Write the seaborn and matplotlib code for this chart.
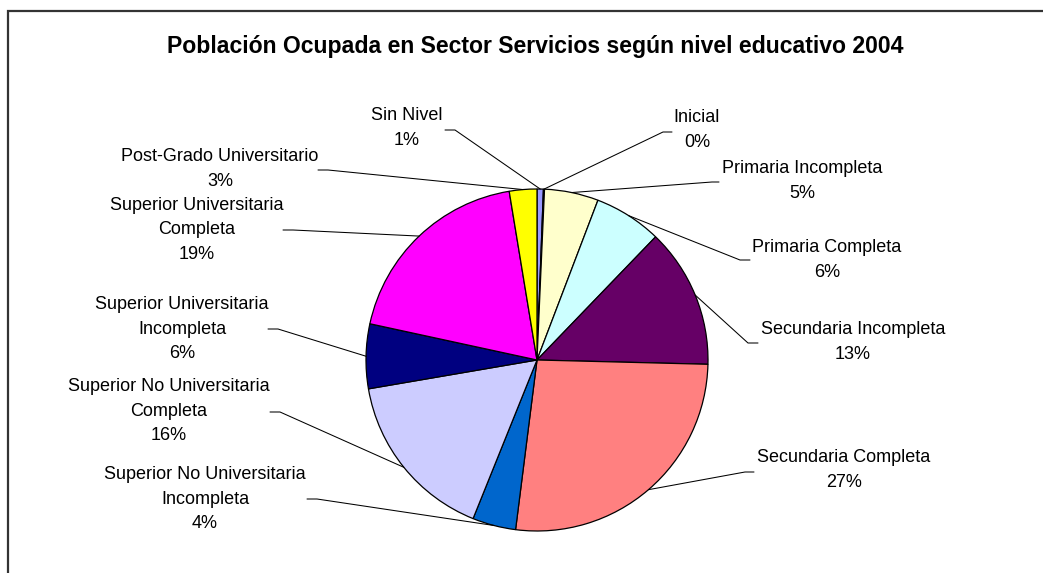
import numpy as np
import matplotlib.pyplot as plt
import seaborn as sns
from matplotlib.patches import Rectangle

# data (share of employed people, %)
categories = ["Sin Nivel", "Inicial", "Primaria Incompleta", "Primaria Completa",
              "Secundaria Incompleta", "Secundaria Completa",
              "Superior No Universitaria Incompleta", "Superior No Universitaria Completa",
              "Superior Universitaria Incompleta", "Superior Universitaria Completa",
              "Post-Grado Universitario"]
shares = [0.6, 0.1, 5.1, 6.4, 13.2, 26.6, 4.1, 16.2, 6.1, 19.0, 2.6]
label_text = ["Sin Nivel", "Inicial", "Primaria Incompleta", "Primaria Completa",
              "Secundaria Incompleta", "Secundaria Completa",
              "Superior No Universitaria\nIncompleta", "Superior No Universitaria\nCompleta",
              "Superior Universitaria\nIncompleta", "Superior Universitaria\nCompleta",
              "Post-Grado Universitario"]
colors = ["#9999FF", "#993366", "#FFFFCC", "#CCFFFF", "#660066", "#FF8080",
          "#0066CC", "#CCCCFF", "#000080", "#FF00FF", "#FFFF00"]

# label placement in pixels: text centre, leader start, leader elbow
label_xy = [(407, 128), (697, 130), (802, 181), (827, 260), (853, 342), (844, 470),
            (205, 499), (169, 411), (182, 329), (197, 230), (220, 169)]
leader_a = [(445, 130), (672, 132), (719, 182), (750, 260), (758, 343), (754, 472),
            (307, 499), (270, 412), (268, 329), (283, 230), (318, 170)]
leader_b = [(455, 130), (663, 132), (712, 182), (740, 260), (748, 343), (745, 472),
            (317, 499), (280, 412), (278, 329), (293, 230), (328, 170)]

sns.set_style("white")
plt.rcParams['font.family'] = ['Liberation Sans', 'DejaVu Sans']
plt.rcParams['text.color'] = 'black'

W, H = 1043, 573
CX, CY, R = 537, 360, 171


def px(p):
    return ((p[0] - CX) / R, (CY - p[1]) / R)


fig = plt.figure(figsize=(W / 100, H / 100), dpi=100)
ax = fig.add_axes([0, 0, 1, 1])

wedges, _ = ax.pie(shares, colors=colors, startangle=90, counterclock=False,
                   radius=1, wedgeprops=dict(edgecolor='black', linewidth=0.9))
ax.set_xlim(-CX / R, (W - CX) / R)
ax.set_ylim((CY - H) / R, CY / R)
ax.set_aspect('equal')
ax.axis('off')

total = sum(shares)
for w, txt, v, t, a, b in zip(wedges, label_text, shares, label_xy, leader_a, leader_b):
    mid = np.deg2rad((w.theta1 + w.theta2) / 2)
    edge = (np.cos(mid), np.sin(mid))
    pa, pb = px(a), px(b)
    ax.plot([pa[0], pb[0], edge[0]], [pa[1], pb[1], edge[1]], color='black', lw=0.75)
    tx, ty = px(t)
    ax.text(tx, ty, f"{txt}\n{round(v / total * 100):.0f}%", ha='center', va='center',
            fontsize=13, linespacing=1.56, color='black')

fig.text(535 / W, 1 - 47 / H, "Población Ocupada en Sector Servicios según nivel educativo 2004",
         ha='center', va='center', fontsize=16.6, fontweight='bold', color='black')

fig.patches.append(Rectangle((8 / W, -0.1), 1.2, 1 - 11 / H + 0.1, transform=fig.transFigure,
                             fill=False, edgecolor='#333333', linewidth=1.6))

fig.savefig("out.png", dpi=100)
